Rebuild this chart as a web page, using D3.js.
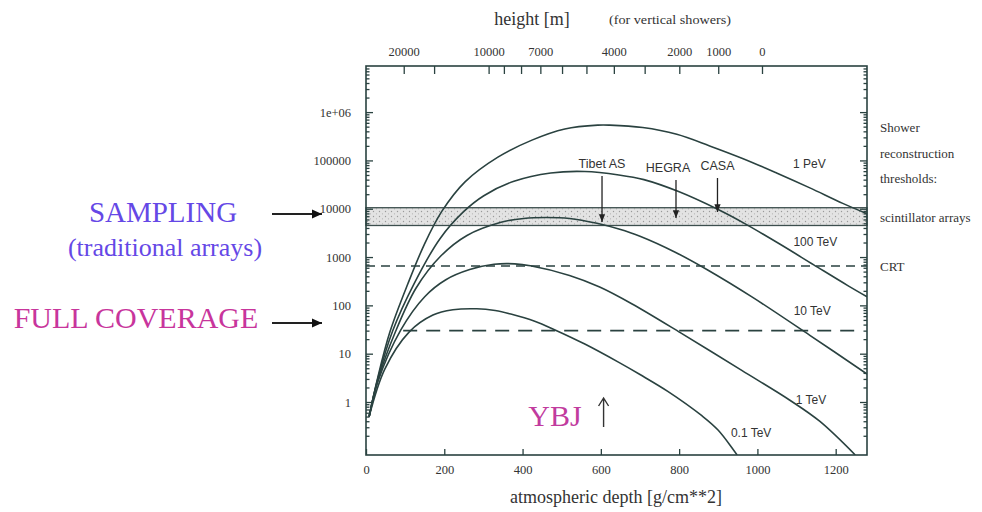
<!DOCTYPE html>
<html>
<head>
<meta charset="utf-8">
<script src="https://cdn.jsdelivr.net/npm/d3@7/dist/d3.min.js"></script>
<style>
  body { margin: 0; background: #ffffff; }
  svg { display: block; }
</style>
</head>
<body>
<svg id="chart" width="982" height="512"></svg>
<script>
// ---- shower size (number of particles) vs atmospheric depth [g/cm^2] ----
const energyLabels = ["1 PeV", "100 TeV", "10 TeV", "1 TeV", "0.1 TeV"];

const shower1PeV = [
  [8, 0.5], [30, 3.2], [61, 28], [107, 280], [150, 1900], [194, 8900],
  [253, 36000], [337, 117000], [424, 263000], [508, 447000], [592, 537000],
  [623, 537000], [707, 479000], [794, 347000], [878, 200000], [962, 110000],
  [1049, 55000], [1134, 27000], [1218, 12900], [1280, 7900]
];
const shower100TeV = [
  [8, 0.5], [30, 3.0], [68, 29.5], [123, 282], [189, 2400], [248, 8500],
  [301, 18600], [378, 37000], [472, 55000], [559, 59000], [646, 50000],
  [710, 40000], [797, 22900], [901, 9500], [970, 4800], [1057, 1860],
  [1144, 690], [1231, 257], [1280, 151]
];
const shower10TeV = [
  [8, 0.5], [30, 2.8], [76, 29.5], [128, 229], [191, 1050], [258, 2800],
  [345, 5250], [403, 6300], [460, 6600], [520, 6300], [590, 5000],
  [646, 3800], [700, 2700], [790, 1260], [873, 540], [987, 148],
  [1134, 24], [1280, 3.8]
];
const shower1TeV = [
  [8, 0.5], [30, 2.6], [89, 31], [150, 151], [204, 339], [265, 550],
  [327, 708], [380, 724], [420, 661], [520, 417], [597, 240], [680, 107],
  [804, 27], [960, 4.5], [1082, 1.1], [1159, 0.4], [1250, 0.08]
];
const shower01TeV = [
  [8, 0.5], [48, 4.8], [110, 28], [171, 63], [222, 81], [283, 85],
  [330, 78], [370, 66], [431, 47], [483, 31], [559, 15.8], [646, 6.6],
  [700, 3.7], [771, 1.66], [858, 0.52], [900, 0.26], [948, 0.08]
];
const showerSeries = [shower1PeV, shower100TeV, shower10TeV, shower1TeV, shower01TeV];

// reconstruction thresholds (shower size)
const scintillatorBand = [4500, 10500];
const crtThreshold = 650;
const fullCoverageThreshold = 30;

// experiment sites (atmospheric depth)
const experimentNames = ["Tibet AS", "HEGRA", "CASA"];
const experimentDepths = [603, 792, 898];
const ybjDepth = 607;

// axis ticks
const depthTicks = [0, 200, 400, 600, 800, 1000, 1200];
const sizeTicks = [1, 10, 100, 1000, 10000, 100000, 1000000];
const sizeTickLabels = ["1", "10", "100", "1000", "10000", "100000", "1e+06"];
const heightTicks = [20000, 15000, 10000, 9000, 8000, 7000, 6000, 5000, 4000, 3000, 2000, 1000, 0];
const heightLabels = [20000, 10000, 7000, 4000, 2000, 1000, 0];

// ---- layout ----
const svg = d3.select("#chart");
const plot = { left: 366, right: 867, top: 66, bottom: 455 };
const ink = "#2a4240";
const serif = "'Liberation Serif', 'Times New Roman', serif";
const sans = "'Liberation Sans', Arial, sans-serif";

const x = d3.scaleLinear().domain([0, 1280]).range([plot.left, plot.right]);
const y = d3.scaleLog().domain([0.08, 9e6]).range([plot.bottom, plot.top]);
// isothermal atmosphere: vertical depth above a given altitude
const depthAtHeight = h => 1013 * Math.exp(-h / 8550);

const defs = svg.append("defs");
defs.append("clipPath").attr("id", "plotClip")
  .append("rect")
  .attr("x", plot.left).attr("y", plot.top)
  .attr("width", plot.right - plot.left).attr("height", plot.bottom - plot.top);

defs.append("marker").attr("id", "headSmall")
  .attr("viewBox", "0 0 10 10").attr("refX", 10).attr("refY", 5)
  .attr("markerWidth", 6).attr("markerHeight", 6).attr("orient", "auto")
  .append("path").attr("d", "M0,1 L10,5 L0,9 Z").attr("fill", "#222");

defs.append("marker").attr("id", "headBig")
  .attr("viewBox", "0 0 10 10").attr("refX", 10).attr("refY", 5)
  .attr("markerWidth", 5).attr("markerHeight", 5).attr("markerUnits", "strokeWidth")
  .attr("orient", "auto")
  .append("path").attr("d", "M0,0.5 L10,5 L0,9.5 Z").attr("fill", "#111");

const dots = defs.append("pattern").attr("id", "stipple")
  .attr("patternUnits", "userSpaceOnUse").attr("width", 6).attr("height", 5);
dots.append("rect").attr("width", 6).attr("height", 5).attr("fill", "#e3e3e3");
dots.append("circle").attr("cx", 1.5).attr("cy", 1.5).attr("r", 0.7).attr("fill", "#9a9a9a");
dots.append("circle").attr("cx", 4.5).attr("cy", 3.8).attr("r", 0.6).attr("fill", "#b0b0b0");

// ---- scintillator threshold band ----
svg.append("rect")
  .attr("x", x(0)).attr("width", x(1280) - x(0))
  .attr("y", y(scintillatorBand[1]))
  .attr("height", y(scintillatorBand[0]) - y(scintillatorBand[1]))
  .attr("fill", "url(#stipple)")
  .attr("stroke", "#3d4f4e").attr("stroke-width", 1.3);

// ---- dashed thresholds ----
svg.append("line")
  .attr("x1", x(0)).attr("x2", x(1280))
  .attr("y1", y(crtThreshold)).attr("y2", y(crtThreshold))
  .attr("stroke", ink).attr("stroke-width", 1.5).attr("stroke-dasharray", "9,6");

svg.append("line")
  .attr("x1", x(95)).attr("x2", x(1255))
  .attr("y1", y(fullCoverageThreshold)).attr("y2", y(fullCoverageThreshold))
  .attr("stroke", ink).attr("stroke-width", 1.6).attr("stroke-dasharray", "14,9");

// ---- shower curves ----
const line = d3.line()
  .x(d => x(d[0]))
  .y(d => y(d[1]))
  .curve(d3.curveCatmullRom.alpha(0.5));

svg.append("g").attr("clip-path", "url(#plotClip)")
  .selectAll("path").data(showerSeries).join("path")
  .attr("d", line)
  .attr("fill", "none")
  .attr("stroke", ink)
  .attr("stroke-width", 1.6);

// curve labels, anchored in data space
const labelAnchors = [[1133, 70000], [1148, 1700], [1140, 63], [1137, 0.9], [984, 0.19]];
svg.append("g").selectAll("text").data(energyLabels).join("text")
  .attr("x", (d, i) => x(labelAnchors[i][0]))
  .attr("y", (d, i) => y(labelAnchors[i][1]))
  .attr("text-anchor", "middle")
  .attr("font-family", sans).attr("font-size", 12).attr("fill", "#333")
  .text(d => d);

// ---- frame and axes ----
svg.append("rect")
  .attr("x", plot.left).attr("y", plot.top)
  .attr("width", plot.right - plot.left).attr("height", plot.bottom - plot.top)
  .attr("fill", "none").attr("stroke", ink).attr("stroke-width", 1.6);

function styleAxis(g) {
  g.select(".domain").remove();
  g.selectAll(".tick line").attr("stroke", ink).attr("stroke-width", 1.3);
  g.selectAll(".tick text").attr("fill", "#333").attr("font-family", serif).attr("font-size", 12.5);
}

// minor log ticks
const minorSizes = [];
for (let e = -1; e <= 6; e++) {
  for (let k = 2; k <= 9; k++) {
    const v = k * Math.pow(10, e);
    if (v > 0.08 && v < 9e6) minorSizes.push(v);
  }
}

svg.append("g").attr("transform", `translate(${plot.left},0)`)
  .call(d3.axisLeft(y).tickValues(sizeTicks)
    .tickFormat((d, i) => sizeTickLabels[i]).tickSize(-7).tickPadding(15))
  .call(styleAxis);
svg.append("g").attr("transform", `translate(${plot.left},0)`)
  .call(d3.axisLeft(y).tickValues(minorSizes).tickFormat("").tickSize(-3.5))
  .call(styleAxis);
svg.append("g").attr("transform", `translate(${plot.right},0)`)
  .call(d3.axisRight(y).tickValues(sizeTicks).tickFormat("").tickSize(-7))
  .call(styleAxis);
svg.append("g").attr("transform", `translate(${plot.right},0)`)
  .call(d3.axisRight(y).tickValues(minorSizes).tickFormat("").tickSize(-3.5))
  .call(styleAxis);

svg.append("g").attr("transform", `translate(0,${plot.bottom})`)
  .call(d3.axisBottom(x).tickValues(depthTicks).tickFormat(d3.format("d"))
    .tickSize(-6).tickPadding(10))
  .call(styleAxis);

// top axis: altitude for vertical showers
const xHeight = h => x(depthAtHeight(h));
const topAxis = svg.append("g").attr("transform", `translate(0,${plot.top})`);
topAxis.selectAll("line").data(heightTicks).join("line")
  .attr("x1", xHeight).attr("x2", xHeight)
  .attr("y1", 0).attr("y2", 8)
  .attr("stroke", ink).attr("stroke-width", 1.3);
topAxis.selectAll("text").data(heightLabels).join("text")
  .attr("x", xHeight).attr("y", -10)
  .attr("text-anchor", "middle")
  .attr("font-family", serif).attr("font-size", 12.5).attr("fill", "#333")
  .text(d => d);

svg.append("text").attr("x", 532).attr("y", 25).attr("text-anchor", "middle")
  .attr("font-family", serif).attr("font-size", 18).attr("fill", "#333")
  .text("height [m]");
svg.append("text").attr("x", 670).attr("y", 24).attr("text-anchor", "middle")
  .attr("font-family", serif).attr("font-size", 12).attr("fill", "#333")
  .attr("textLength", 122).attr("lengthAdjust", "spacingAndGlyphs")
  .text("(for vertical showers)");

svg.append("text").attr("x", 616).attr("y", 503).attr("text-anchor", "middle")
  .attr("font-family", serif).attr("font-size", 18).attr("fill", "#333")
  .text("atmospheric depth [g/cm**2]");

// ---- threshold labels on the right ----
const rightLines = [["Shower", 132], ["reconstruction", 158], ["thresholds:", 183]];
svg.append("g").selectAll("text").data(rightLines).join("text")
  .attr("x", 880).attr("y", d => d[1])
  .attr("font-family", serif).attr("font-size", 13).attr("fill", "#333")
  .text(d => d[0]);
svg.append("text").attr("x", 880)
  .attr("y", y(Math.sqrt(scintillatorBand[0] * scintillatorBand[1])) + 5)
  .attr("font-family", serif).attr("font-size", 13).attr("fill", "#333")
  .text("scintillator arrays");
svg.append("text").attr("x", 880).attr("y", y(crtThreshold) + 5)
  .attr("font-family", serif).attr("font-size", 13).attr("fill", "#333")
  .text("CRT");

// ---- experiment sites ----
const expLabelY = [168, 172, 170];
const expLabelDx = [0, -8, 0];
const expTipY = [222, 218, 212];
const exp = svg.append("g").selectAll("g").data(experimentNames).join("g");
exp.append("text")
  .attr("x", (d, i) => x(experimentDepths[i]) + expLabelDx[i])
  .attr("y", (d, i) => expLabelY[i])
  .attr("text-anchor", "middle")
  .attr("font-family", sans).attr("font-size", 12.5).attr("fill", "#333")
  .text(d => d);
exp.append("line")
  .attr("x1", (d, i) => x(experimentDepths[i])).attr("x2", (d, i) => x(experimentDepths[i]))
  .attr("y1", (d, i) => expLabelY[i] + 8).attr("y2", (d, i) => expTipY[i])
  .attr("stroke", "#222").attr("stroke-width", 1.3)
  .attr("marker-end", "url(#headSmall)");

// ---- YBJ ----
svg.append("text").attr("x", 555).attr("y", 426).attr("text-anchor", "middle")
  .attr("font-family", serif).attr("font-size", 30).attr("fill", "#c13b9e")
  .text("YBJ");
const ybjX = x(ybjDepth);
svg.append("path")
  .attr("d", `M${ybjX},427 L${ybjX},398 M${ybjX - 5},406 L${ybjX},398 L${ybjX + 5},406`)
  .attr("fill", "none").attr("stroke", "#333").attr("stroke-width", 1.4);

// ---- detector technique annotations ----
svg.append("text").attr("x", 163).attr("y", 222).attr("text-anchor", "middle")
  .attr("font-family", serif).attr("font-size", 29).attr("fill", "#6548e6")
  .text("SAMPLING");
svg.append("text").attr("x", 165).attr("y", 256).attr("text-anchor", "middle")
  .attr("font-family", serif).attr("font-size", 26).attr("fill", "#6548e6")
  .text("(traditional arrays)");
svg.append("text").attr("x", 136).attr("y", 328).attr("text-anchor", "middle")
  .attr("font-family", serif).attr("font-size", 30).attr("fill", "#c8359c")
  .text("FULL COVERAGE");

[214, 323].forEach(yy => {
  svg.append("line").attr("x1", 272).attr("x2", 322).attr("y1", yy).attr("y2", yy)
    .attr("stroke", "#222").attr("stroke-width", 2)
    .attr("marker-end", "url(#headBig)");
});
</script>
</body>
</html>
